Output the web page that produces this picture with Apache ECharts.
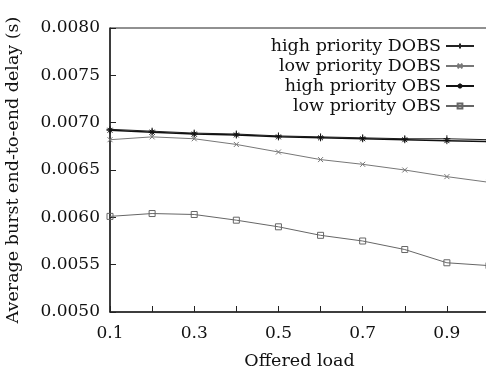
<!DOCTYPE html>
<html><head><meta charset="utf-8">
<script src="https://cdn.jsdelivr.net/npm/echarts@6/dist/echarts.min.js"></script>
<style>html,body{margin:0;padding:0;background:#fff}#c{width:486px;height:369px}</style>
</head><body><div id="c"></div>
<script>
const loads = [0.1, 0.2, 0.3, 0.4, 0.5, 0.6, 0.7, 0.8, 0.9, 1.0];
const highDOBS = [0.00693, 0.00691, 0.00689, 0.00688, 0.00686, 0.00685, 0.00684, 0.00683, 0.00683, 0.00682];
const lowDOBS  = [0.00682, 0.00685, 0.00683, 0.00677, 0.00669, 0.00661, 0.00656, 0.00650, 0.00643, 0.00637];
const highOBS  = [0.00692, 0.00690, 0.00688, 0.00687, 0.00685, 0.00684, 0.00683, 0.00682, 0.00681, 0.00680];
const lowOBS   = [0.00601, 0.00604, 0.00603, 0.00597, 0.00590, 0.00581, 0.00575, 0.00566, 0.00552, 0.00549];
const seriesNames = ['high priority DOBS', 'low priority DOBS', 'high priority OBS', 'low priority OBS'];

const FONT = 'DejaVu Serif';
const plus = 'path://M0,5L10,5M5,0L5,10';
const cross = 'path://M0,0L10,10M10,0L0,10';
const star = 'path://M0,5L10,5M5,0L5,10M1.5,1.5L8.5,8.5M8.5,1.5L1.5,8.5';
const square = 'path://M0,0L10,0L10,10L0,10Z';

function mk(name, vals, color, width, symbol, size) {
  return {
    name: name, type: 'line',
    data: loads.map((x, i) => [x, vals[i]]),
    symbol: symbol, symbolSize: size, symbolKeepAspect: true,
    lineStyle: { color: color, width: width },
    itemStyle: { color: 'rgba(0,0,0,0)', borderColor: color, borderWidth: 1 },
    emphasis: { disabled: true }
  };
}

const chart = echarts.init(document.getElementById('c'));
chart.setOption({
  animation: false,
  backgroundColor: '#fff',
  grid: { left: 110, right: -3, top: 28, bottom: 57, show: true, borderColor: '#222', borderWidth: 1,
          containLabel: false, outerBoundsMode: 'none' },
  legend: {
    data: seriesNames, orient: 'vertical', right: 6, top: 32, align: 'right',
    itemWidth: 28, itemHeight: 6, itemGap: 2,
    textStyle: { fontFamily: FONT, fontSize: 17.5, color: '#111' }
  },
  xAxis: {
    type: 'value', min: 0.1, max: 1.0, interval: 0.1,
    name: 'Offered load', nameLocation: 'middle', nameGap: 40,
    nameTextStyle: { fontFamily: FONT, fontSize: 17.5, color: '#111' },
    axisLine: { lineStyle: { color: '#222', width: 1.5 } },
    axisTick: { inside: true, length: 6, lineStyle: { color: '#222' } },
    axisLabel: { fontFamily: FONT, fontSize: 17, color: '#111', margin: 13,
      formatter: v => (Math.round(v * 10) % 2 === 1 ? v.toFixed(1) : '') },
    splitLine: { show: false }
  },
  yAxis: {
    type: 'value', min: 0.005, max: 0.008, interval: 0.0005,
    name: 'Average burst end-to-end delay (s)', nameLocation: 'middle', nameGap: 88,
    nameTextStyle: { fontFamily: FONT, fontSize: 17.5, color: '#111' },
    axisLine: { show: true, lineStyle: { color: '#222', width: 1.5 } },
    axisTick: { show: true, inside: true, length: 6, lineStyle: { color: '#222' } },
    axisLabel: { fontFamily: FONT, fontSize: 17, color: '#111', margin: 10,
      formatter: v => v.toFixed(4) },
    splitLine: { show: false }
  },
  series: [
    mk(seriesNames[0], highDOBS, '#222', 1, plus, 7),
    mk(seriesNames[1], lowDOBS, '#777', 1, cross, 5),
    mk(seriesNames[2], highOBS, '#111', 1.5, star, 7),
    mk(seriesNames[3], lowOBS, '#666', 1, square, 6)
  ]
});
</script></body></html>
